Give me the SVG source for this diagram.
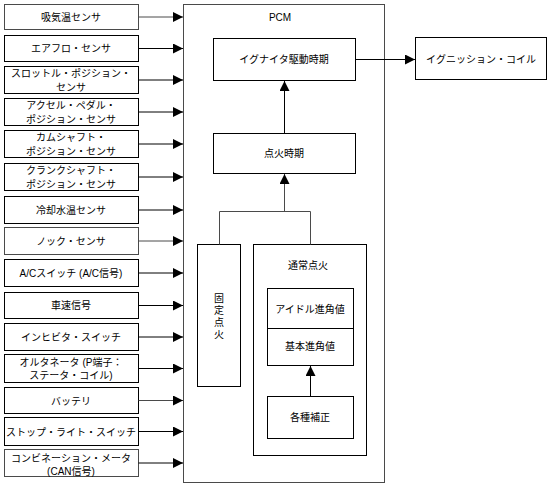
<svg xmlns="http://www.w3.org/2000/svg" width="551" height="485" viewBox="0 0 551 485">
<defs>
<style>
.b{fill:#fff;stroke:#000;stroke-width:1}
.g{stroke:#4a4a4a}
.l{fill:none;stroke:#000;stroke-width:1}
.t{font-family:"Liberation Sans","Noto Sans CJK JP",sans-serif;font-size:10px;fill:#000;text-anchor:middle;dominant-baseline:central}
</style>
<marker id="ah" viewBox="0 0 10 10" refX="10" refY="5" markerWidth="10" markerHeight="10" markerUnits="userSpaceOnUse" orient="auto">
<path d="M0,0 L10,5 L0,10 Z" fill="#000"/>
</marker>
</defs>
<rect width="551" height="485" fill="#fff"/>

<g id="pcm">
<rect class="b g" x="183.5" y="4.5" width="201" height="478"/>
<text class="t" x="280" y="17">PCM</text>
</g>

<g id="s1"><rect class="b g" x="4.5" y="4.5" width="134" height="25"/><text class="t" x="71" y="17">吸気温センサ</text></g>
<g id="s2"><rect class="b" x="4.5" y="35.5" width="134" height="26"/><text class="t" x="71" y="48">エアフロ・センサ</text></g>
<g id="s3"><rect class="b" x="4.5" y="66.5" width="134" height="27"/><text class="t" x="71" y="73">スロットル・ポジション・</text><text class="t" x="71" y="87">センサ</text></g>
<g id="s4"><rect class="b" x="4.5" y="98.5" width="134" height="27"/><text class="t" x="71" y="105">アクセル・ペダル・</text><text class="t" x="71" y="119">ポジション・センサ</text></g>
<g id="s5"><rect class="b" x="4.5" y="130.5" width="134" height="27"/><text class="t" x="71" y="137">カムシャフト・</text><text class="t" x="71" y="151">ポジション・センサ</text></g>
<g id="s6"><rect class="b" x="4.5" y="163.5" width="134" height="27"/><text class="t" x="71" y="170">クランクシャフト・</text><text class="t" x="71" y="184">ポジション・センサ</text></g>
<g id="s7"><rect class="b" x="4.5" y="196.5" width="134" height="27"/><text class="t" x="71" y="210">冷却水温センサ</text></g>
<g id="s8"><rect class="b g" x="4.5" y="227.5" width="134" height="27"/><text class="t" x="71" y="241">ノック・センサ</text></g>
<g id="s9"><rect class="b" x="4.5" y="259.5" width="134" height="27"/><text class="t" x="71" y="273">A/Cスイッチ (A/C信号)</text></g>
<g id="s10"><rect class="b" x="4.5" y="292.5" width="134" height="26"/><text class="t" x="71" y="305">車速信号</text></g>
<g id="s11"><rect class="b" x="4.5" y="323.5" width="134" height="27"/><text class="t" x="71" y="337">インヒビタ・スイッチ</text></g>
<g id="s12"><rect class="b" x="4.5" y="354.5" width="134" height="28"/><text class="t" x="71" y="362">オルタネータ (P端子：</text><text class="t" x="71" y="375">ステータ・コイル)</text></g>
<g id="s13"><rect class="b" x="4.5" y="387.5" width="134" height="26"/><text class="t" x="71" y="401">バッテリ</text></g>
<g id="s14"><rect class="b" x="4.5" y="417.5" width="134" height="28"/><text class="t" x="71" y="432">ストップ・ライト・スイッチ</text></g>
<g id="s15"><rect class="b g" x="4.5" y="449.5" width="134" height="27"/><text class="t" x="71" y="458">コンビネーション・メータ</text><text class="t" x="71" y="471">(CAN信号)</text></g>

<g id="igdrive"><rect class="b" x="213.5" y="38.5" width="142" height="42"/><text class="t" x="284" y="59">イグナイタ駆動時期</text></g>
<g id="ignition"><rect class="b" x="213.5" y="133.5" width="142" height="40"/><text class="t" x="284" y="153">点火時期</text></g>
<g id="fixed"><rect class="b" x="197.5" y="244.5" width="43" height="142"/>
<text class="t" x="219" y="298">固</text><text class="t" x="219" y="310">定</text><text class="t" x="219" y="322">点</text><text class="t" x="219" y="334">火</text></g>
<g id="normal"><rect class="b" x="253.5" y="244.5" width="113" height="211"/><text class="t" x="308" y="265">通常点火</text></g>
<g id="advance"><rect class="b" x="267.5" y="288.5" width="86" height="77"/><line class="l" x1="267.5" y1="328.5" x2="353.5" y2="328.5"/>
<text class="t" x="310" y="309">アイドル進角値</text><text class="t" x="310" y="346">基本進角値</text></g>
<g id="corr"><rect class="b" x="267.5" y="396.5" width="86" height="42"/><text class="t" x="310" y="417">各種補正</text></g>
<g id="coil"><rect class="b" x="415.5" y="37.5" width="131" height="42"/><text class="t" x="481" y="59">イグニッション・コイル</text></g>

<g id="connectors" class="l" marker-end="url(#ah)">
<line class="g" x1="138.5" y1="17" x2="183" y2="17"/>
<line x1="138.5" y1="48.5" x2="183" y2="48.5"/>
<line x1="138.5" y1="80" x2="183" y2="80"/>
<line x1="138.5" y1="112" x2="183" y2="112"/>
<line x1="138.5" y1="144" x2="183" y2="144"/>
<line x1="138.5" y1="177" x2="183" y2="177"/>
<line x1="138.5" y1="210" x2="183" y2="210"/>
<line class="g" x1="138.5" y1="241" x2="183" y2="241"/>
<line x1="138.5" y1="273" x2="183" y2="273"/>
<line x1="138.5" y1="305.5" x2="183" y2="305.5"/>
<line x1="138.5" y1="337" x2="183" y2="337"/>
<line x1="138.5" y1="368.5" x2="183" y2="368.5"/>
<line class="g" x1="138.5" y1="400.5" x2="183" y2="400.5"/>
<line x1="138.5" y1="431.5" x2="183" y2="431.5"/>
<line x1="138.5" y1="463" x2="183" y2="463"/>
<line x1="355.5" y1="59.5" x2="415" y2="59.5"/>
<line x1="284.5" y1="133.5" x2="284.5" y2="81"/>
<polyline class="g" points="219.5,244.5 219.5,211.5 310.5,211.5 310.5,244.5" marker-end="none"/>
<line class="g" x1="284.5" y1="211.5" x2="284.5" y2="174"/>
<line x1="310.5" y1="396.5" x2="310.5" y2="366"/>
</g>
</svg>
